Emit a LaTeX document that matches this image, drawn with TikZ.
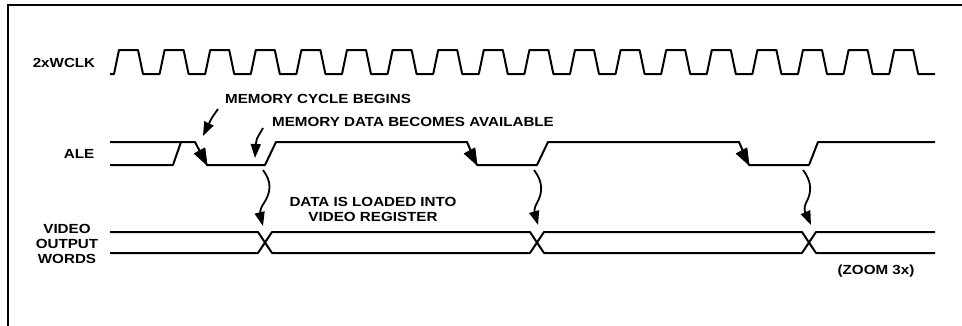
\documentclass[tikz,border=0pt]{standalone}
\usepackage{fontspec}
\setmainfont{Liberation Sans}[FakeStretch=1.15]
\usetikzlibrary{arrows.meta}
\tikzset{
  sig/.style={line width=2pt, line join=round},
  frame/.style={line width=1.6pt},
  lbl/.style={font=\fontsize{13.2}{15}\selectfont\bfseries, inner sep=0pt},
  arr/.style={line width=1.8pt, -{Triangle[length=14pt,width=10pt]}},
  edgehead/.style={fill=black, draw=black, line width=0.8pt, line join=round}
}
\begin{document}
\begin{tikzpicture}[x=1pt,y=-1pt]
\useasboundingbox (0,0) rectangle (962,325);
% frame
\draw[frame] (8,326) -- (8,5) -- (963,5);
% labels
\node[lbl] (clk) at (64,63) {2xWCLK};
\node[lbl] (ale) at (79,154) {ALE};
\node[lbl,align=center] (vow) at (67,244) {VIDEO\\OUTPUT\\WORDS};
\node[lbl,anchor=west] (mcb) at (225,99) {MEMORY CYCLE BEGINS};
\node[lbl,anchor=west] (mdba) at (272,122) {MEMORY DATA BECOMES AVAILABLE};
\node[lbl,align=center] (dil) at (373,209.5) {DATA IS LOADED INTO\\VIDEO REGISTER};
\node[lbl] (zoomtxt) at (876,271) {(ZOOM 3x)};
% clock
\draw[sig] (110,74) \foreach \k in {0,...,17} { -- ({114+45.6*\k},74) -- ({119+45.6*\k},50) -- ({138+45.6*\k},50) -- ({143+45.6*\k},74) } -- (935,74);
% ALE
\draw[sig] (110,142) -- (195,142) -- (207,165) -- (265,165) -- (276,142) -- (467,142) -- (477,165) -- (537,165) -- (548,142) -- (739,142) -- (749,165) -- (809,165) -- (818,142) -- (935,142);
\draw[sig] (110,165) -- (173,165) -- (181,142);
\coordinate (f1b) at (207,165);
\coordinate (f2b) at (477,165);
\coordinate (f3b) at (749,165);
\draw[edgehead] (f1b) -- ++(-2.1,-17) -- ++(-10.6,5.6) -- cycle;
\draw[edgehead] (f2b) -- ++(-2.1,-17) -- ++(-10.6,5.6) -- cycle;
\draw[edgehead] (f3b) -- ++(-2.1,-17) -- ++(-10.6,5.6) -- cycle;
% video output words
\draw[sig] (110,232) -- (258,232) -- (272,253) -- (530,253) -- (544,232) -- (802,232) -- (816,253) -- (935,253);
\draw[sig] (110,253) -- (258,253) -- (272,232) -- (530,232) -- (544,253) -- (802,253) -- (816,232) -- (935,232);
% annotation arrows
\coordinate (mcbTail) at (218,109); \coordinate (mcbTip) at (203,136);
\draw[arr] (mcbTail) .. controls (211,119) .. (mcbTip);
\coordinate (mdTail) at (263,128); \coordinate (mdTip) at (255,158);
\draw[arr] (mdTail) .. controls (256,140) .. (mdTip);
% wavy arrows
\coordinate (w1a) at (263,170); \coordinate (w1b) at (263,226);
\coordinate (w2a) at (534,170); \coordinate (w2b) at (538,225);
\coordinate (w3a) at (803,170); \coordinate (w3b) at (811,225);
\draw[arr] (w1a) .. controls (272,182) and (271,192) .. (264,203) .. controls (258,211) and (261,218) .. (w1b);
\draw[arr] (w2a) .. controls (543,182) and (543,192) .. (537,203) .. controls (532,211) and (536,218) .. (w2b);
\draw[arr] (w3a) .. controls (812,182) and (812,192) .. (806,203) .. controls (802,211) and (808,218) .. (w3b);
\end{tikzpicture}
\end{document}
